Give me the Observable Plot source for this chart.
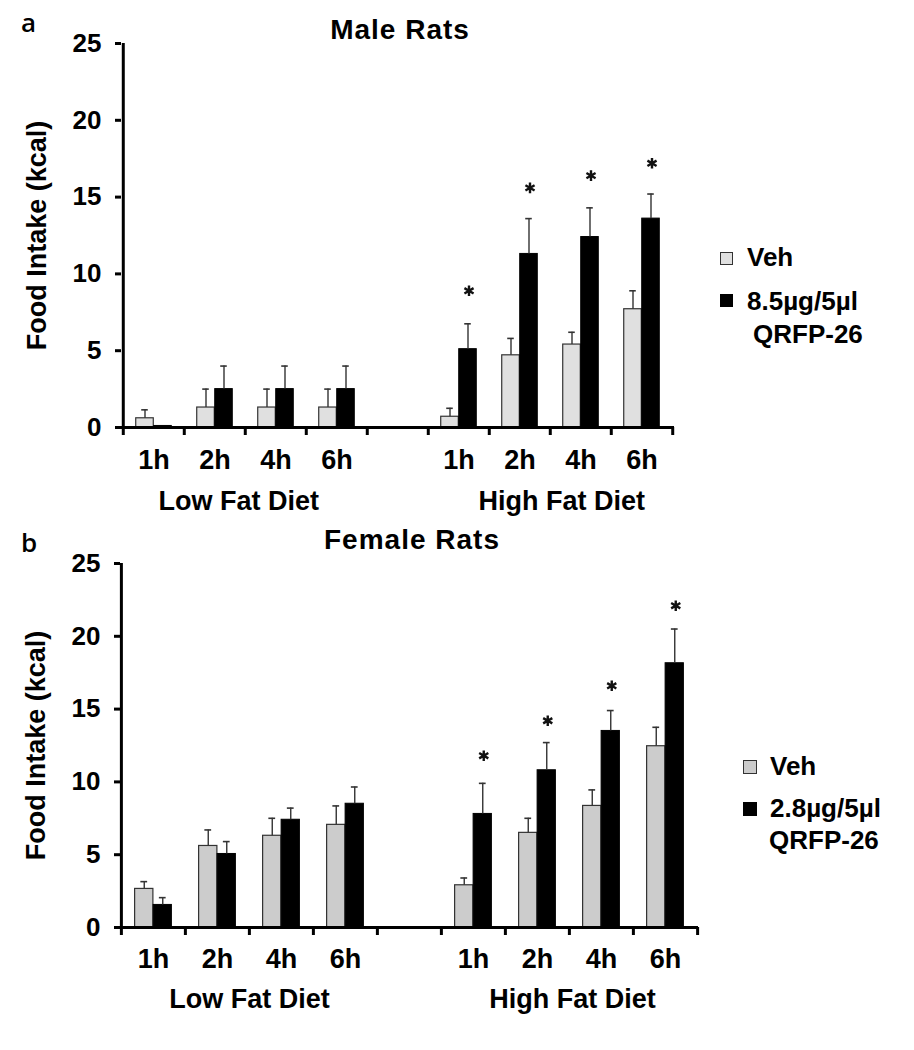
<!DOCTYPE html>
<html>
<head>
<meta charset="utf-8">
<script src="https://cdn.jsdelivr.net/npm/d3@7"></script>
<script src="https://cdn.jsdelivr.net/npm/@observablehq/plot@0.6"></script>
<style>
  body { margin: 0; background: #fff; }
  #page { position: relative; width: 914px; height: 1050px; font-family: "Liberation Sans", Arial, sans-serif; }
  .abs { position: absolute; font-weight: bold; color: #000; white-space: nowrap; font-size: 26px; line-height: 26px; }
  .title { font-size: 28px; line-height: 28px; letter-spacing: 1px; transform: translateX(-50%); }
  .abs.panel { font-family: "Open Sans", sans-serif; font-weight: 600; font-size: 26px; line-height: 26px; }
  .sq { position: absolute; border: 1px solid #333; box-sizing: border-box; }
  svg { position: absolute; left: 0; }
</style>
</head>
<body>
<div id="page"></div>
<script>
// ---- data ----
const timepoints = ["1h", "2h", "4h", "6h"];
const dietCodes = ["LF", "HF"];
const dietLabels = ["Low Fat Diet", "High Fat Diet"];
const yTicks = [0, 5, 10, 15, 20, 25];

// Male rats (panel a): LF 1h,2h,4h,6h then HF 1h,2h,4h,6h
const maleVeh      = [0.6, 1.3, 1.3, 1.3, 0.7, 4.7, 5.4, 7.7];
const maleVehSem   = [0.55, 1.2, 1.2, 1.2, 0.55, 1.1, 0.8, 1.2];
const maleDrug     = [0.1, 2.5, 2.5, 2.5, 5.1, 11.3, 12.4, 13.6];
const maleDrugSem  = [0, 1.5, 1.5, 1.5, 1.65, 2.3, 1.9, 1.6];
const maleStarY    = [8.9, 15.6, 16.4, 17.2];   // HF 1h..6h

// Female rats (panel b)
const femaleVeh     = [2.65, 5.6, 6.3, 7.05, 2.9, 6.5, 8.35, 12.45];
const femaleVehSem  = [0.5, 1.1, 1.2, 1.3, 0.5, 1.0, 1.1, 1.3];
const femaleDrug    = [1.55, 5.05, 7.4, 8.5, 7.8, 10.8, 13.5, 18.15];
const femaleDrugSem = [0.5, 0.85, 0.8, 1.15, 2.1, 1.9, 1.4, 2.35];
const femaleStarY   = [11.8, 14.2, 16.6, 22.1];

const slots = [...timepoints.map(t => "LF|" + t), "gap", ...timepoints.map(t => "HF|" + t)];
const dataSlots = slots.filter(s => s !== "gap");
const hfSlots = timepoints.map(t => "HF|" + t);

const page = document.getElementById("page");

function makePanel(cfg) {
  const W = 914;
  const bw = (W - cfg.mL - cfg.mR) / slots.length;
  const pw = cfg.pairW;
  const vehRows = dataSlots.map((s, i) => ({slot: s, value: cfg.veh[i], sem: cfg.vehSem[i]}));
  const drugRows = dataSlots.map((s, i) => ({slot: s, value: cfg.drug[i], sem: cfg.drugSem[i]}));
  const starRows = hfSlots.map((s, i) => ({slot: s, y: cfg.stars[i]}));
  const cap = 3.5;
  const chart = Plot.plot({
    width: W,
    height: cfg.height,
    marginLeft: cfg.mL,
    marginRight: cfg.mR,
    marginTop: cfg.mT,
    marginBottom: cfg.mB,
    style: {fontFamily: "'Liberation Sans', Arial, sans-serif", fontWeight: "bold", fontSize: "26px", color: "#000", background: "transparent", overflow: "visible"},
    x: {type: "band", domain: slots, padding: 0},
    y: {domain: [0, 25]},
    marks: [
      Plot.barY(vehRows, {x: "slot", y: "value", fill: cfg.vehFill, stroke: "#333", strokeWidth: 1.2,
        insetLeft: (bw - pw) / 2, insetRight: bw / 2}),
      Plot.barY(drugRows, {x: "slot", y: "value", fill: "#000", stroke: "#000", strokeWidth: 1,
        insetLeft: bw / 2, insetRight: (bw - pw) / 2}),
      Plot.ruleX(vehRows.filter(d => d.sem > 0), {x: "slot", y1: "value", y2: d => d.value + d.sem, dx: -pw / 4, stroke: "#333", strokeWidth: 1.4}),
      Plot.ruleX(drugRows.filter(d => d.sem > 0), {x: "slot", y1: "value", y2: d => d.value + d.sem, dx: pw / 4, stroke: "#333", strokeWidth: 1.4}),
      Plot.tickY(vehRows.filter(d => d.sem > 0), {x: "slot", y: d => d.value + d.sem, stroke: "#333", strokeWidth: 1.6,
        insetLeft: bw / 2 - pw / 4 - cap, insetRight: bw / 2 + pw / 4 - cap}),
      Plot.tickY(drugRows.filter(d => d.sem > 0), {x: "slot", y: d => d.value + d.sem, stroke: "#333", strokeWidth: 1.6,
        insetLeft: bw / 2 + pw / 4 - cap, insetRight: bw / 2 - pw / 4 - cap}),
      Plot.dot(starRows, {x: "slot", y: "y", symbol: "asterisk", r: 5, stroke: "#111", strokeWidth: 2.4, dx: pw / 4 + 1}),
      // axes lines
      Plot.ruleY([0], {stroke: "#000", strokeWidth: 3}),
      Plot.ruleX([slots[0]], {x: d => d, dx: -bw / 2, y1: () => 0, y2: () => 25, stroke: "#000", strokeWidth: 3}),
      // boundary ticks below the x axis
      Plot.ruleX(slots, {x: d => d, dx: -bw / 2, y1: () => 0, y2: () => 0, insetBottom: -8, stroke: "#000", strokeWidth: 3}),
      Plot.ruleX([slots[slots.length - 1]], {x: d => d, dx: bw / 2, y1: () => 0, y2: () => 0, insetBottom: -8, stroke: "#000", strokeWidth: 3}),
      Plot.axisY({ticks: yTicks, tickSize: 6, tickPadding: 14, fontSize: 26, strokeWidth: 3, label: null}),
      Plot.axisX({tickSize: 0, tickPadding: cfg.xPad, fontSize: 27, label: null,
        tickFormat: d => d === "gap" ? "" : d.split("|")[1]}),
      Plot.text(["Food Intake (kcal)"], {text: d => d, frameAnchor: "left", textAnchor: "middle", rotate: -90, dx: cfg.ylabDx, fontSize: 27}),
      Plot.text([dietLabels[0]], {text: d => d, x: () => "LF|2h", y: () => 0, dx: bw / 2 + cfg.lowShift, dy: cfg.groupDy, fontSize: 27}),
      Plot.text([dietLabels[1]], {text: d => d, x: () => "HF|2h", y: () => 0, dx: bw / 2 + cfg.highShift, dy: cfg.groupDy, fontSize: 27})
    ]
  });
  chart.style.top = cfg.top + "px";
  page.appendChild(chart);
}

makePanel({top: 0, height: 520, mL: 121, mR: 240, mT: 43, mB: 93, pairW: 36,
  veh: maleVeh, vehSem: maleVehSem, drug: maleDrug, drugSem: maleDrugSem, stars: maleStarY,
  vehFill: "#e0e0e0", xPad: 22, ylabDx: -84, lowShift: -7, highShift: 11, groupDy: 74});

makePanel({top: 520, height: 530, mL: 120, mR: 216, mT: 43, mB: 123, pairW: 37,
  veh: femaleVeh, vehSem: femaleVehSem, drug: femaleDrug, drugSem: femaleDrugSem, stars: femaleStarY,
  vehFill: "#cccccc", xPad: 21, ylabDx: -84, lowShift: 0, highShift: 3, groupDy: 72});

// ---- HTML text: titles, panel letters, legends ----
function addDiv(cls, text, left, top) {
  const d = document.createElement("div");
  d.className = cls;
  d.textContent = text;
  d.style.left = left + "px";
  d.style.top = top + "px";
  page.appendChild(d);
  return d;
}
function addSq(left, top, size, fill) {
  const d = document.createElement("div");
  d.className = "sq";
  d.style.left = left + "px"; d.style.top = top + "px";
  d.style.width = size + "px"; d.style.height = size + "px";
  d.style.background = fill;
  if (fill === "#000") d.style.borderColor = "#000";
  page.appendChild(d);
}
const legendDrugLabels = ["8.5µg/5µl", "2.8µg/5µl"];
const legendCompound = "QRFP-26";
const legendVeh = "Veh";

addDiv("abs panel", "a", 21, 9);
addDiv("abs title", "Male Rats", 400, 16);
addSq(720, 252, 13, "#e0e0e0");
addDiv("abs", legendVeh, 747, 244);
addSq(720, 294, 13, "#000");
addDiv("abs", legendDrugLabels[0], 747, 288);
addDiv("abs", legendCompound, 753, 321);

addDiv("abs panel", "b", 21, 529);
addDiv("abs title", "Female Rats", 412, 526);
addSq(743, 760, 14, "#cccccc");
addDiv("abs", legendVeh, 770, 753);
addSq(743, 802, 14, "#000");
addDiv("abs", legendDrugLabels[1], 770, 795);
addDiv("abs", legendCompound, 769, 827);
</script>
</body>
</html>
